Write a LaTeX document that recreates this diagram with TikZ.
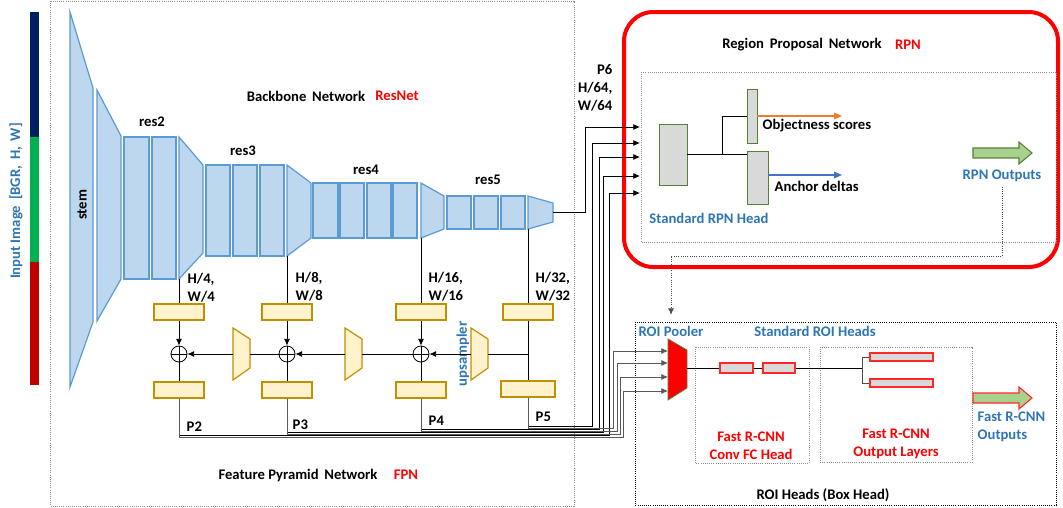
\documentclass[tikz,border=0pt]{standalone}
\usepackage{fontspec}
\setmainfont{Carlito}
\usetikzlibrary{arrows.meta, fit}

\definecolor{bbfill}{RGB}{189,215,238}
\definecolor{bbline}{RGB}{91,155,213}
\definecolor{fpnfill}{RGB}{255,242,204}
\definecolor{fpnline}{RGB}{191,144,0}
\definecolor{txtblue}{RGB}{46,117,182}
\definecolor{headfill}{RGB}{217,217,217}
\definecolor{headline}{RGB}{84,130,53}
\definecolor{outfill}{RGB}{169,209,142}
\definecolor{scoreorange}{RGB}{237,125,49}
\definecolor{deltablue}{RGB}{68,114,196}
\definecolor{barnavy}{RGB}{0,32,96}
\definecolor{bargreen}{RGB}{0,176,80}
\definecolor{barred}{RGB}{192,0,0}
\definecolor{fcline}{RGB}{255,40,40}

\begin{document}
\begin{tikzpicture}[
        x = 0.75pt, y = -0.75pt,
        >= {Latex[length = 5pt, width = 4.5pt]},
        font = \fontsize{11}{13.5}\selectfont\bfseries,
        bbshape/.style = {draw = bbline, fill = bbfill, line width = 0.9pt},
        bblock/.style = {bbshape, inner sep = 0pt},
        fpnshape/.style = {draw = fpnline, fill = fpnfill, line width = 0.9pt},
        fpnbox/.style = {fpnshape, inner sep = 0pt},
        sumnode/.style = {circle, draw, line width = 0.6pt, minimum size = 12pt, inner sep = 0pt,
            path picture = {\draw[line width = 0.6pt] (path picture bounding box.north) -- (path picture bounding box.south)
                (path picture bounding box.west) -- (path picture bounding box.east);}},
        headbox/.style = {draw = headline, fill = headfill, line width = 0.7pt, inner sep = 0pt},
        fcbox/.style = {draw = fcline, fill = headfill, line width = 0.9pt, inner sep = 0pt},
        wire/.style = {line width = 0.6pt},
        roiwire/.style = {line width = 0.6pt, draw = black!65},
        dotbox/.style = {draw = black!45, densely dotted, line width = 0.6pt},
        bluelbl/.style = {text = txtblue},
        redlbl/.style = {text = red}
    ]
    \useasboundingbox (0,0) rectangle (1063,507);

    % input image bar
    \fill[barnavy] (30,12) rectangle (39,137);
    \fill[bargreen] (30,137) rectangle (39,262);
    \fill[barred] (30,262) rectangle (39,385);
    \node[bluelbl, rotate = 90] (inlbl) at (16,201) {Input Image\, [BGR,\, H,\, W]};

    % frames
    \draw[dotbox] (50,1) rectangle (574,506);
    \draw[red, line width = 3pt, rounded corners = 22pt] (624,12) rectangle (1058,267);
    \draw[dotbox] (641,72) rectangle (1056,242);
    \draw[draw = black, densely dotted, line width = 0.6pt] (635,322) rectangle (1056,505);
    \draw[dotbox] (695,347) rectangle (809,463);
    \draw[dotbox] (820,347) rectangle (972,462);

    % backbone
    \draw[bbshape] (70,12) -- (93,88) -- (93,322) -- (70,387) -- cycle;
    \draw[bbshape] (97,90) -- (121,136) -- (121,279) -- (97,321) -- cycle;
    \node[bblock, fit = {(124,137) (149,279)}] (r2a) {};
    \node[bblock, fit = {(152,137) (176,279)}] (r2b) {};
    \draw[bbshape] (179,137) -- (203,165) -- (203,253) -- (179,279) -- cycle;
    \node[bblock, fit = {(206,165) (230,256)}] (r3a) {};
    \node[bblock, fit = {(233,165) (257,256)}] (r3b) {};
    \node[bblock, fit = {(260,165) (284,256)}] (r3c) {};
    \draw[bbshape] (287,165) -- (311,183) -- (311,238) -- (287,256) -- cycle;
    \node[bblock, fit = {(313,183) (338,238)}] (r4a) {};
    \node[bblock, fit = {(340,183) (364,238)}] (r4b) {};
    \node[bblock, fit = {(367,183) (391,238)}] (r4c) {};
    \node[bblock, fit = {(393,183) (417,238)}] (r4d) {};
    \draw[bbshape] (421,183) -- (444,196) -- (444,229) -- (421,238) -- cycle;
    \node[bblock, fit = {(447,196) (471,229)}] (r5a) {};
    \node[bblock, fit = {(474,196) (498,229)}] (r5b) {};
    \node[bblock, fit = {(501,196) (525,229)}] (r5c) {};
    \draw[bbshape] (528,196) -- (553,203) -- (553,222) -- (528,229) -- cycle;
    \coordinate (c2) at (179,279);
    \coordinate (c3) at (287,256);
    \coordinate (c4) at (421,238);
    \coordinate (c5) at (528,229);
    \coordinate (c6) at (553,212.5);

    \node[rotate = 90] (stemlbl) at (82,205) {stem};
    \node (res2lbl) at (152,122) {res2};
    \node (res3lbl) at (243,151) {res3};
    \node (res4lbl) at (366,170) {res4};
    \node (res5lbl) at (488,180) {res5};
    \node (bblbl) at (306,96) {Backbone\, Network};
    \node[redlbl] (bbname) at (397,96) {ResNet};

    % feature pyramid
    \node[fpnbox, fit = {(154,304) (204,320)}] (l2) {};
    \node[fpnbox, fit = {(262,304) (312,320)}] (l3) {};
    \node[fpnbox, fit = {(396,304) (446,320)}] (l4) {};
    \node[fpnbox, fit = {(503,304) (553,320)}] (l5) {};
    \node[sumnode] (s2) at (179,354) {};
    \node[sumnode] (s3) at (287,354) {};
    \node[sumnode] (s4) at (421,354) {};
    \node[fpnbox, fit = {(154,382) (204,398)}] (o2) {};
    \node[fpnbox, fit = {(262,382) (312,398)}] (o3) {};
    \node[fpnbox, fit = {(396,382) (446,398)}] (o4) {};
    \node[fpnbox, fit = {(501,381) (555,397)}] (o5) {};
    \draw[fpnshape] (233,328) -- (250,339) -- (250,368) -- (233,380) -- cycle;
    \draw[fpnshape] (345,328) -- (362,339) -- (362,368) -- (345,380) -- cycle;
    \draw[fpnshape] (471,328) -- (488,339) -- (488,368) -- (471,380) -- cycle;
    \coordinate (u1w) at (233,354);
    \coordinate (u1e) at (250,354);
    \coordinate (u2w) at (345,354);
    \coordinate (u2e) at (362,354);
    \coordinate (u3w) at (471,354);
    \coordinate (u3e) at (488,354);
    \coordinate (t5) at (528,354);
    \node[bluelbl, rotate = 90] (uplbl) at (463,354) {upsampler};

    \node[anchor = west, align = left] (h2) at (183,288) {H/4,\\W/4};
    \node[anchor = west, align = left] (h3) at (291,287) {H/8,\\W/8};
    \node[anchor = west, align = left] (h4) at (424,287) {H/16,\\W/16};
    \node[anchor = west, align = left] (h5) at (531,287) {H/32,\\W/32};
    \node[anchor = west] (p2lbl) at (182,427) {P2};
    \node[anchor = west] (p3lbl) at (288,425) {P3};
    \node[anchor = west] (p4lbl) at (424,421) {P4};
    \node[anchor = west] (p5lbl) at (531,417) {P5};
    \node[anchor = east, align = right] (p6lbl) at (617,88) {P6\\H/64,\\W/64};
    \node (fpnlbl) at (298,475) {Feature Pyramid\, Network};
    \node[redlbl] (fpnname) at (406,475) {FPN};

    \draw[wire] (c2) -- (l2);
    \draw[wire] (c3) -- (l3);
    \draw[wire] (c4) -- (l4);
    \draw[wire] (c5) -- (l5);
    \draw[wire, ->] (l2) -- (s2);
    \draw[wire, ->] (l3) -- (s3);
    \draw[wire, ->] (l4) -- (s4);
    \draw[wire] (s2) -- (o2);
    \draw[wire] (s3) -- (o3);
    \draw[wire] (s4) -- (o4);
    \draw[wire] (l5) -- (o5);
    \draw[wire] (t5) -- (u3e);
    \draw[wire, ->] (u3w) -- (s4);
    \draw[wire] (s4) -- (u2e);
    \draw[wire, ->] (u2w) -- (s3);
    \draw[wire] (s3) -- (u1e);
    \draw[wire, ->] (u1w) -- (s2);

    % region proposal network
    \node (rpnlbl) at (802,45) {Region\, Proposal\, Network};
    \node[redlbl] (rpnname) at (908,45) {RPN};
    \node[headbox, fit = {(659,124) (687,185)}] (rpnhead) {};
    \node[headbox, fit = {(747,89) (757,143)}] (objconv) {};
    \node[headbox, fit = {(747,151) (768,204)}] (deltaconv) {};
    \coordinate (split) at (722,154.5);
    \coordinate (objend) at (842,116);
    \coordinate (deltaend) at (842,175);
    \draw[wire] (rpnhead.east) -- (split) |- (objconv.west);
    \draw[wire] (split) -- (split -| deltaconv.west);
    \draw[scoreorange, line width = 1.2pt, -{Triangle[length = 6pt, width = 5pt]}] (objconv.east) -- (objend);
    \draw[deltablue, line width = 1.2pt, -{Triangle[length = 6pt, width = 5pt]}] (deltaconv.east |- deltaend) -- (deltaend);
    \node[anchor = west] (objlbl) at (758,126) {Objectness scores};
    \node[anchor = west] (deltalbl) at (770,186) {Anchor deltas};
    \node[bluelbl] (headlbl) at (709,218) {Standard RPN Head};
    \draw[draw = headline, fill = outfill, line width = 0.8pt] (973,148) -- (1019,148) -- (1019,142) -- (1032,153)
        -- (1019,164) -- (1019,158) -- (973,158) -- cycle;
    \node[bluelbl] (rpnout) at (1002,176) {RPN Outputs};

    % inputs of the rpn and of the pooler
    \coordinate (rpn6) at (640,127);
    \coordinate (rpn5) at (640,143);
    \coordinate (rpn4) at (640,157);
    \coordinate (rpn3) at (640,176);
    \coordinate (rpn2) at (640,193);
    \coordinate (roi5) at (668,351);
    \coordinate (roi4) at (668,363);
    \coordinate (roi3) at (668,377);
    \coordinate (roi2) at (668,391);
    \draw[wire, ->] (c6) -- (585,212.5) |- (rpn6);
    \draw[wire, ->] (o5) |- (592,426) |- (rpn5);
    \draw[wire, ->] (o4) |- (599,429) |- (rpn4);
    \draw[wire, ->] (o3) |- (603,432) |- (rpn3);
    \draw[wire, ->] (o2) |- (609,435) |- (rpn2);
    \draw[roiwire, ->] (o5) |- (613,428) |- (roi5);
    \draw[roiwire, ->] (o4) |- (617,431) |- (roi4);
    \draw[roiwire, ->] (o3) |- (620,434) |- (roi3);
    \draw[roiwire, ->] (o2) |- (623,437.5) |- (roi2);

    % roi heads
    \coordinate (pooltop) at (671,315);
    \draw[draw = black!70, densely dotted, line width = 0.7pt, ->] (rpnout.south) |- (671,256) -- (pooltop);
    \node[bluelbl] (poollbl) at (671,331) {ROI Pooler};
    \node[bluelbl] (roilbl) at (815,331) {Standard ROI Heads};
    \draw[draw = headline, fill = red, line width = 0.6pt] (668,339) -- (687,350) -- (687,388) -- (668,400) -- cycle;
    \coordinate (poolout) at (687,368);
    \node[fcbox, fit = {(720,363) (753,373)}] (fc1) {};
    \node[fcbox, fit = {(763,363) (795,373)}] (fc2) {};
    \node[fcbox, fit = {(870,353) (933,361)}] (clsfc) {};
    \node[fcbox, fit = {(870,379) (933,387)}] (boxfc) {};
    \coordinate (split2) at (862,368);
    \draw[wire] (poolout) -- (fc1);
    \draw[wire] (fc1) -- (fc2);
    \draw[wire] (fc2) -- (split2);
    \draw[wire, draw = black!70] (split2) |- (clsfc.west);
    \draw[wire, draw = black!70] (split2) |- (boxfc.west);
    \node[redlbl, align = center] (fclbl) at (751,446) {Fast R-CNN\\Conv FC Head};
    \node[redlbl, align = center] (outlbl) at (896,444) {Fast R-CNN\\Output Layers};
    \draw[draw = fcline, fill = outfill, line width = 0.8pt] (973,393) -- (1019,393) -- (1019,387) -- (1032,398)
        -- (1019,409) -- (1019,403) -- (973,403) -- cycle;
    \node[bluelbl, anchor = west, align = left] (frcnnout) at (973,427) {Fast R-CNN\\Outputs};
    \node (boxheadlbl) at (823,495) {ROI Heads (Box Head)};
\end{tikzpicture}
\end{document}
